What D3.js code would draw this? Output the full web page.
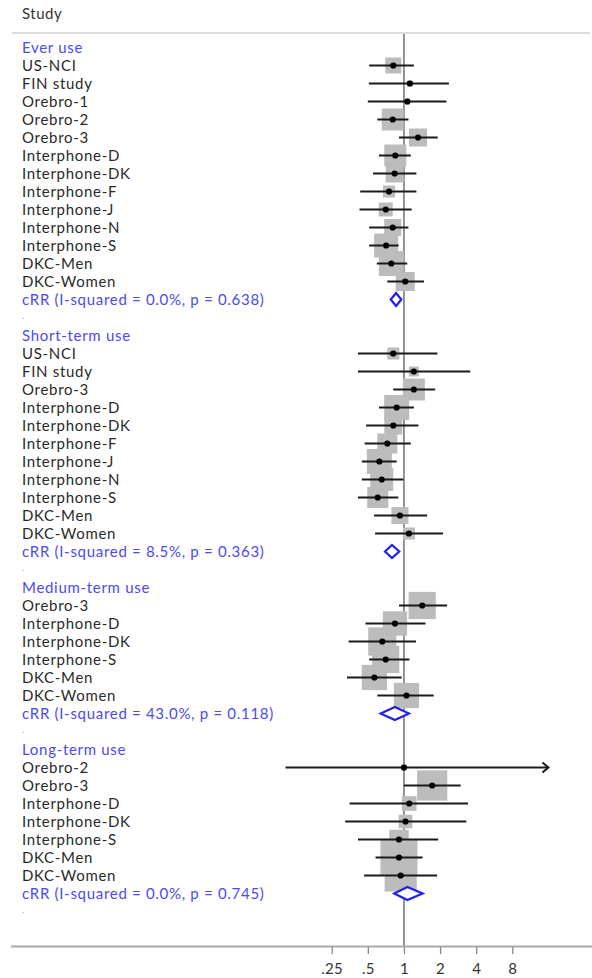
<!DOCTYPE html>
<html>
<head>
<meta charset="utf-8">
<script src="https://cdn.jsdelivr.net/npm/d3@7"></script>
<style>
  html, body { margin: 0; padding: 0; background: #fff; }
  svg { display: block; }
  text { font-family: Lato, "Open Sans", sans-serif; }
</style>
</head>
<body>
<svg id="chart" width="592" height="978"></svg>
<script>
// ---- Data: relative risks (RR) with 95% CI and study weights (%) ----
const groupNames = ["Ever use", "Short-term use", "Medium-term use", "Long-term use"];

const everStudies = ["US-NCI", "FIN study", "Orebro-1", "Orebro-2", "Orebro-3", "Interphone-D", "Interphone-DK",
  "Interphone-F", "Interphone-J", "Interphone-N", "Interphone-S", "DKC-Men", "DKC-Women"];
const everRR = [0.815, 1.12, 1.065, 0.806, 1.31, 0.847, 0.837, 0.751, 0.705, 0.806, 0.71, 0.785, 1.025];
const everLo = [0.513, 0.51, 0.50, 0.60, 0.91, 0.62, 0.553, 0.432, 0.426, 0.513, 0.513, 0.594, 0.727];
const everHi = [1.21, 2.37, 2.26, 1.09, 1.91, 1.14, 1.27, 1.27, 1.16, 1.09, 0.904, 1.065, 1.47];
const everWt = [6.2, 0.9, 0.9, 11.7, 7.8, 11.7, 7.8, 3.5, 4.7, 7.0, 13.9, 15.1, 8.7];

const shortStudies = ["US-NCI", "FIN study", "Orebro-3", "Interphone-D", "Interphone-DK", "Interphone-F",
  "Interphone-J", "Interphone-N", "Interphone-S", "DKC-Men", "DKC-Women"];
const shortRR = [0.815, 1.21, 1.21, 0.87, 0.815, 0.727, 0.624, 0.653, 0.605, 0.926, 1.10];
const shortLo = [0.414, 0.414, 0.815, 0.62, 0.484, 0.47, 0.446, 0.446, 0.414, 0.564, 0.575];
const shortHi = [1.90, 3.57, 1.82, 1.21, 1.32, 1.14, 0.87, 0.99, 0.897, 1.56, 2.12];
const shortWt = [3.5, 2.4, 11.7, 15.1, 7.8, 9.7, 15.1, 12.8, 10.7, 7.0, 3.5];

const mediumStudies = ["Orebro-3", "Interphone-D", "Interphone-DK", "Interphone-S", "DKC-Men", "DKC-Women"];
const mediumRR = [1.42, 0.842, 0.66, 0.705, 0.567, 1.05];
const mediumLo = [0.91, 0.478, 0.346, 0.513, 0.335, 0.60];
const mediumHi = [2.29, 1.51, 1.26, 1.11, 0.957, 1.77];
const mediumWt = [17.9, 14.3, 19.2, 17.9, 15.4, 15.4];

const longStudies = ["Orebro-2", "Orebro-3", "Interphone-D", "Interphone-DK", "Interphone-S", "DKC-Men", "DKC-Women"];
const longRR = [1.0, 1.72, 1.106, 1.03, 0.909, 0.909, 0.94];
const longLo = [0.103, 1.0, 0.352, 0.324, 0.414, 0.58, 0.466];
const longHi = [20.0, 2.97, 3.42, 3.31, 1.93, 1.43, 1.89];
const longWt = [0.8, 22.1, 5.2, 4.5, 9.2, 33.2, 25.0];

// Pooled (combined) RR per subgroup with heterogeneity statistics
const pooledRR = [0.86, 0.795, 0.84, 1.07];
const pooledLo = [0.776, 0.695, 0.64, 0.83];
const pooledHi = [0.95, 0.914, 1.10, 1.43];
const pooledI2 = ["0.0%", "8.5%", "43.0%", "0.0%"];
const pooledP = ["0.638", "0.363", "0.118", "0.745"];

const tickValues = [0.25, 0.5, 1, 2, 4, 8];
const tickLabels = [".25", ".5", "1", "2", "4", "8"];
const displayMax = 16;

// ---- Assemble rows ----
const groupData = [
  [everStudies, everRR, everLo, everHi, everWt],
  [shortStudies, shortRR, shortLo, shortHi, shortWt],
  [mediumStudies, mediumRR, mediumLo, mediumHi, mediumWt],
  [longStudies, longRR, longLo, longHi, longWt]
];
const rows = [];
groupData.forEach((g, gi) => {
  rows.push({ type: "header", label: groupNames[gi] });
  g[0].forEach((name, i) => rows.push({ type: "study", label: name, rr: g[1][i], lo: g[2][i], hi: g[3][i], wt: g[4][i] }));
  rows.push({ type: "pooled", label: `cRR (I-squared = ${pooledI2[gi]}, p = ${pooledP[gi]})`,
    rr: pooledRR[gi], lo: pooledLo[gi], hi: pooledHi[gi] });
  rows.push({ type: "spacer", label: "." });
});

// ---- Layout ----
const svg = d3.select("#chart");
const rowStep = 18, firstRow = 47.5;
const y = i => firstRow + i * rowStep;
const x = d3.scaleLog().base(2).domain([0.25, 8]).range([331.7, 512.3]);
const boxSide = w => 6.43 * Math.sqrt(w);
const blue = "#4b4bf0";
const labelX = 22;

// header text and rule
svg.append("text").attr("x", labelX).attr("y", 13.5).attr("dy", "0.35em")
  .attr("font-size", 15).attr("letter-spacing", 0.5).attr("fill", "#333").text("Study");
svg.append("line").attr("x1", 12).attr("x2", 590).attr("y1", 33).attr("y2", 33)
  .attr("stroke", "#ddd").attr("stroke-width", 2);

// null reference line
svg.append("line").attr("x1", x(1)).attr("x2", x(1)).attr("y1", 34).attr("y2", 946)
  .attr("stroke", "#7a7a7a").attr("stroke-width", 1.6);

// row labels
svg.append("g").selectAll("text").data(rows).join("text")
  .attr("x", labelX)
  .attr("y", (d, i) => y(i))
  .attr("dy", d => d.type === "spacer" ? "0.1em" : "0.36em")
  .attr("font-size", d => d.type === "spacer" ? 10 : 15)
  .attr("letter-spacing", d => d.type === "spacer" ? 0 : 0.7)
  .attr("fill", d => d.type === "header" || d.type === "pooled" ? blue : (d.type === "spacer" ? "#aaa" : "#2a2a2a"))
  .text(d => d.label);

const studyRows = rows.map((d, i) => ({ ...d, i })).filter(d => d.type === "study");
const pooledRows = rows.map((d, i) => ({ ...d, i })).filter(d => d.type === "pooled");

// weight boxes
svg.append("g").selectAll("rect").data(studyRows).join("rect")
  .attr("x", d => x(d.rr) - boxSide(d.wt) / 2)
  .attr("y", d => y(d.i) - boxSide(d.wt) / 2)
  .attr("width", d => boxSide(d.wt))
  .attr("height", d => boxSide(d.wt))
  .attr("fill", "#bcbcbc");

// confidence intervals
svg.append("g").selectAll("line").data(studyRows).join("line")
  .attr("x1", d => x(d.lo))
  .attr("x2", d => x(Math.min(d.hi, displayMax)))
  .attr("y1", d => y(d.i)).attr("y2", d => y(d.i))
  .attr("stroke", "#1a1a1a").attr("stroke-width", 2);

// arrow heads for intervals running past the plotted range
svg.append("g").selectAll("path").data(studyRows.filter(d => d.hi > displayMax)).join("path")
  .attr("d", d => {
    const ax = x(displayMax), ay = y(d.i);
    return `M${ax - 6},${ay - 5} L${ax},${ay} L${ax - 6},${ay + 5}`;
  })
  .attr("fill", "none").attr("stroke", "#1a1a1a").attr("stroke-width", 2);

// point estimates
svg.append("g").selectAll("circle").data(studyRows).join("circle")
  .attr("cx", d => x(d.rr)).attr("cy", d => y(d.i)).attr("r", 3.1)
  .attr("fill", "#000");

// pooled diamonds
svg.append("g").selectAll("path").data(pooledRows).join("path")
  .attr("d", d => {
    const cy = y(d.i), h = 6.5;
    return `M${x(d.lo)},${cy} L${x(d.rr)},${cy - h} L${x(d.hi)},${cy} L${x(d.rr)},${cy + h} Z`;
  })
  .attr("fill", "#fff").attr("stroke", "#1f1ff5").attr("stroke-width", 2.2);

// x axis
svg.append("line").attr("x1", 11).attr("x2", 592).attr("y1", 946.5).attr("y2", 946.5)
  .attr("stroke", "#aaa").attr("stroke-width", 2);
const axis = d3.axisBottom(x).tickValues(tickValues).tickFormat((d, i) => tickLabels[i]).tickSize(7).tickPadding(9);
const gAxis = svg.append("g").attr("transform", "translate(0,947)").call(axis);
gAxis.select(".domain").remove();
gAxis.selectAll(".tick line").attr("stroke", "#888").attr("stroke-width", 1.3);
gAxis.selectAll(".tick text").attr("font-size", 15).attr("letter-spacing", 0.3).attr("fill", "#333")
  .attr("font-family", "Lato, 'Open Sans', sans-serif");
</script>
</body>
</html>
